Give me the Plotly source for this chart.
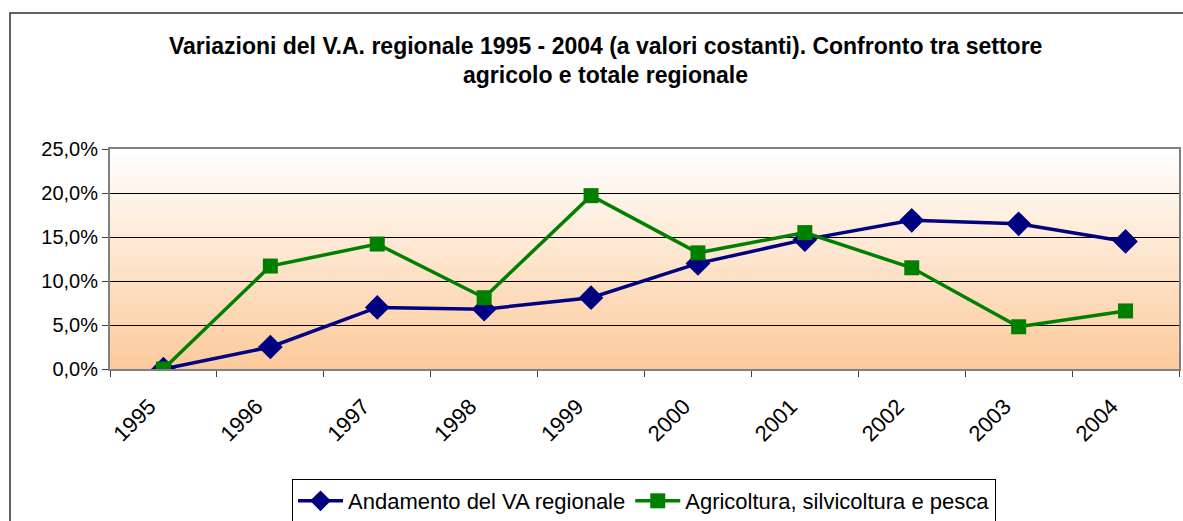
import plotly.graph_objects as go

years = ["1995", "1996", "1997", "1998", "1999", "2000", "2001", "2002", "2003", "2004"]
va_regionale = [0.000, 0.025, 0.070, 0.068, 0.081, 0.120, 0.147, 0.169, 0.165, 0.145]
agricoltura = [0.000, 0.117, 0.142, 0.081, 0.197, 0.132, 0.155, 0.115, 0.048, 0.066]
y_ticks = [0.0, 0.05, 0.10, 0.15, 0.20, 0.25]

name_va = "Andamento del VA regionale"
name_agr = "Agricoltura, silvicoltura e pesca"
title_1 = "Variazioni del V.A. regionale 1995 - 2004 (a valori costanti). Confronto tra settore"
title_2 = "agricolo e totale regionale"

W, H = 1183, 521
L, R, T, B = 110, 4, 149, 152
pw, ph = W - L - R, H - T - B

def px_x(x):
    return (x - L) / pw

def px_y(y):
    return (H - B - y) / ph

fig = go.Figure()
fig.add_trace(go.Scatter(
    x=years, y=va_regionale, name=name_va, mode="lines+markers",
    line=dict(color="#000080", width=3.5),
    marker=dict(symbol="diamond", size=19, color="#000080"),
))
fig.add_trace(go.Scatter(
    x=years, y=agricoltura, name=name_agr, mode="lines+markers",
    line=dict(color="#008000", width=3.5),
    marker=dict(symbol="square", size=15, color="#008000"),
))

# gradient background of plot area
shapes = []
n = 60
top = (255, 255, 255)
bot = (252, 202, 155)
for i in range(n):
    f0 = i / n
    f1 = (i + 1) / n
    t = (f0 + f1) / 2
    c = tuple(round(bot[k] + (top[k] - bot[k]) * t) for k in range(3))
    shapes.append(dict(type="rect", xref="paper", yref="paper", x0=0, x1=1,
                       y0=f0, y1=f1 + 0.002, fillcolor="rgb(%d,%d,%d)" % c,
                       line=dict(width=0), layer="below"))
# outer chart frame
shapes.append(dict(type="rect", xref="paper", yref="paper",
                   x0=px_x(10), x1=px_x(1195), y0=px_y(540), y1=px_y(13),
                   line=dict(color="#303030", width=1.5), fillcolor="rgba(0,0,0,0)"))

fig.update_layout(
    width=W, height=H,
    margin=dict(l=L, r=R, t=T, b=B, autoexpand=False),
    paper_bgcolor="white", plot_bgcolor="rgba(0,0,0,0)",
    font=dict(family="Liberation Sans, Arial, sans-serif", color="black", size=20),
    separators=",.",
    shapes=shapes,
    showlegend=True,
    legend=dict(orientation="h", x=px_x(644), xanchor="center", y=px_y(479), yanchor="top",
                bordercolor="black", borderwidth=1, bgcolor="white",
                font=dict(size=22), itemwidth=45, tracegroupgap=0),
    annotations=[
        dict(text="<b>" + title_1 + "</b>", xref="paper", yref="paper",
             x=px_x(605), y=px_y(46), xanchor="center", yanchor="middle",
             showarrow=False, font=dict(size=23)),
        dict(text="<b>" + title_2 + "</b>", xref="paper", yref="paper",
             x=px_x(605), y=px_y(75), xanchor="center", yanchor="middle",
             showarrow=False, font=dict(size=23)),
    ],
)
fig.update_xaxes(
    type="category", range=[-0.5, 9.5], tickangle=-45, tickson="boundaries",
    ticks="outside", ticklen=6, tickcolor="#404040",
    showline=True, linecolor="#808080", linewidth=2, mirror=True,
    showgrid=False, tickfont=dict(size=22),
    ticklabelstandoff=14, ticklabelshift=-14,
)
fig.update_yaxes(
    range=[0, 0.25], tickvals=y_ticks, tickformat=".1%",
    ticks="outside", ticklen=6, tickcolor="#404040",
    showline=True, linecolor="#808080", linewidth=2, mirror=True,
    showgrid=True, gridcolor="black", gridwidth=1, zeroline=False,
    tickfont=dict(size=20),
)

fig.write_html("out.html", config={"displayModeBar": False},
               post_script="document.body.style.margin='0';")
